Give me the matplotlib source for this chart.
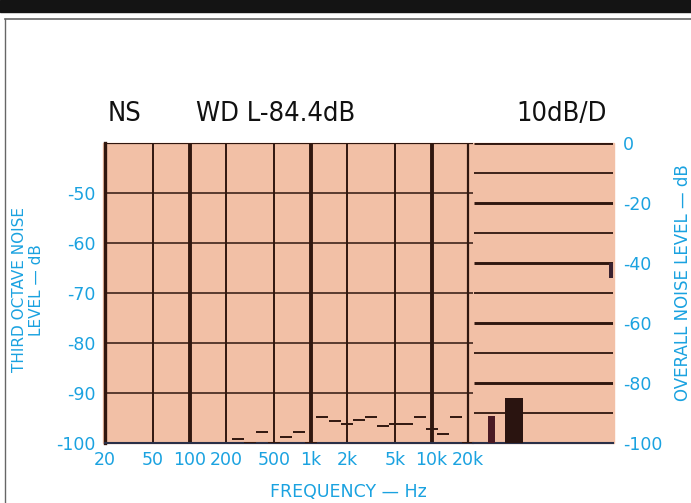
import numpy as np
import matplotlib
matplotlib.use('Agg')
import matplotlib.pyplot as plt
from matplotlib import font_manager
from matplotlib.patches import Rectangle
from matplotlib.lines import Line2D
from matplotlib.ticker import NullLocator, NullFormatter

#%% Datos
freq_ticks = [20, 50, 100, 200, 500, 1000, 2000, 5000, 10000, 20000]
freq_labels = ['20', '50', '100', '200', '500', '1k', '2k', '5k', '10k', '20k']
thick_freqs = [100, 1000, 10000]

# Bandas de tercio de octava (Hz) y nivel medido (dB)
band_freqs = [250, 315, 400, 500, 630, 800, 1000, 1250, 1600, 2000, 2500,
              3150, 4000, 5000, 6300, 8000, 10000, 12500, 16000, 20000]
band_levels = [-99.2, -100, -97.8, -100, -98.7, -97.8, -100, -94.7, -95.5, -96.1,
               -95.4, -94.7, -96.5, -96.2, -96.2, -94.7, -97.1, -98.1, -94.7, -100]

left_yticks = [-50, -60, -70, -80, -90, -100]
right_yticks = [0, -20, -40, -60, -80, -100]
right_grid = [0, -10, -20, -30, -40, -50, -60, -70, -80, -90]

# Niveles globales: no ponderado (barra fina) y ponderado (barra ancha)
overall_levels = [-91, -85]
marker_level = [-40, -45]

header_texts = ['NS', 'WD L-84.4dB', '10dB/D']

#%% Estilo
W, H = 691, 503
salmon = '#F2C0A6'
grid_c = '#30170F'
blue = '#1AA2E0'
dark = '#2A1410'

fonts = font_manager.fontManager.ttflist
names = {f.name for f in fonts}
if 'Liberation Sans Narrow' in names:
    head_font = dict(family='Liberation Sans Narrow', size=22)
elif any(f.name == 'DejaVu Sans' and 'condensed' in str(f.stretch) for f in fonts):
    head_font = dict(family='DejaVu Sans', stretch='condensed', size=19.5)
else:
    head_font = dict(family='DejaVu Sans Mono', size=19)

fig = plt.figure(figsize=(W / 100, H / 100), dpi=100)
fig.patch.set_facecolor('white')

def fx(px):
    return px / W

def fy(py):
    return 1 - py / H

# Marco superior del escaneo
fig.patches.append(Rectangle((0, fy(12)), 1, 12 / H, transform=fig.transFigure,
                             color='#141414', zorder=-2))
fig.lines.append(Line2D([fx(5), 1], [fy(19), fy(19)], transform=fig.transFigure,
                        color='#666666', lw=1.2, zorder=-2))
fig.lines.append(Line2D([fx(5), fx(5)], [fy(19), 0], transform=fig.transFigure,
                        color='#666666', lw=1.0, zorder=-2))

# Fondo salmón
fig.patches.append(Rectangle((fx(103), fy(443)), fx(614) - fx(103), 300 / H,
                             transform=fig.transFigure, color=salmon, zorder=-2))

#%% Panel izquierdo: tercio de octava
ax1 = fig.add_axes([fx(105), fy(443), fx(473) - fx(105), 300 / H])
ax1.patch.set_alpha(0)
ax1.set_xscale('log')
ax1.set_xlim(20, 20 * 10 ** (368 / 121))
ax1.set_ylim(-100, -40)

for f in freq_ticks[1:]:
    if f in thick_freqs:
        ax1.axvline(f, color=grid_c, lw=2.8, zorder=2)
    elif f == 20000:
        ax1.axvline(f, color=grid_c, lw=1.6, zorder=2)
    else:
        ax1.axvline(f, color=grid_c, lw=1.4, zorder=2)
for y in left_yticks[:-1]:
    ax1.axhline(y, color=grid_c, lw=1.1, zorder=2)
ax1.axhline(-40, color=grid_c, lw=1.6, zorder=2)

lo = np.array(band_freqs) / 2 ** (1 / 6)
hi = np.array(band_freqs) * 2 ** (1 / 6)
ax1.hlines(band_levels, lo, hi, colors=grid_c, lw=1.4, zorder=3)

ax1.set_xticks(freq_ticks)
ax1.set_xticklabels(freq_labels)
ax1.xaxis.set_minor_locator(NullLocator())
ax1.xaxis.set_minor_formatter(NullFormatter())
ax1.set_yticks(left_yticks)
ax1.set_yticklabels([str(v) for v in left_yticks])
ax1.tick_params(axis='both', length=0, colors=blue, labelsize=12.5)
ax1.tick_params(axis='x', pad=6)
ax1.tick_params(axis='y', pad=7)

for s in ['top', 'right']:
    ax1.spines[s].set_visible(False)
ax1.spines['left'].set_color(grid_c)
ax1.spines['left'].set_linewidth(2.4)
ax1.spines['bottom'].set_color('#2A3048')
ax1.spines['bottom'].set_linewidth(1.5)

#%% Panel derecho: nivel global
ax2 = fig.add_axes([fx(473), fy(443), fx(613) - fx(473), 300 / H])
ax2.patch.set_alpha(0)
ax2.set_xlim(0, 1)
ax2.set_ylim(-100, 0)
for y in right_grid:
    lw = 2.1 if y % 20 == 0 else 1.3
    ax2.plot([0.01, 1], [y, y], color=grid_c, lw=lw, zorder=2, solid_capstyle='butt')

ax2.bar([0.132, 0.293], [lv + 100 for lv in overall_levels], bottom=-100,
        width=[0.05, 0.129], color=['#4A1A24', dark], zorder=3)
ax2.bar([0.985], [marker_level[0] - marker_level[1]], bottom=marker_level[1],
        width=0.03, color='#3A2230', zorder=3)

ax2.set_xticks([])
ax2.yaxis.tick_right()
ax2.set_yticks(right_yticks)
ax2.set_yticklabels([str(v) for v in right_yticks])
ax2.tick_params(axis='y', length=0, colors=blue, labelsize=12.5, pad=7)
for s in ['top', 'right', 'left']:
    ax2.spines[s].set_visible(False)
ax2.spines['bottom'].set_color('#2A3048')
ax2.spines['bottom'].set_linewidth(1.5)

#%% Textos
fig.text(fx(28), fy(290), 'THIRD OCTAVE NOISE\nLEVEL \u2014 dB', rotation=90,
         ha='center', va='center', multialignment='center', color=blue,
         fontsize=11, linespacing=1.15)
fig.text(fx(683), fy(283), 'OVERALL NOISE LEVEL \u2014 dB', rotation=90,
         ha='center', va='center', color=blue, fontsize=12)
fig.text(fx(348), fy(492), 'FREQUENCY \u2014 Hz', ha='center', va='center',
         color=blue, fontsize=12.5)

for txt, x in zip(header_texts, [108, 196, 516]):
    fig.text(fx(x), fy(121), txt, ha='left', va='baseline', color='#111111',
             **head_font)

fig.savefig('out.png', dpi=100, facecolor='white')
